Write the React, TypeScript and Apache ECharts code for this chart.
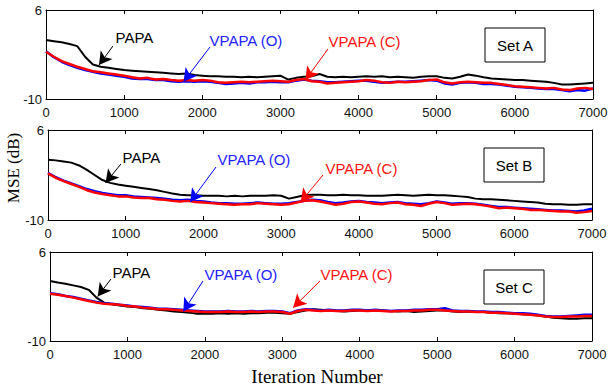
import React, { useEffect, useRef } from "react";
import * as echarts from "echarts";

const STEP = 100;
const ITER: number[] = Array.from({ length: 71 }, (_, i) => i * STEP);
const X_TICKS = [0, 1000, 2000, 3000, 4000, 5000, 6000, 7000];
const Y_TICKS = [-10, 6];
const SET_NAMES = ["Set A", "Set B", "Set C"];
const SERIES_NAMES = ["PAPA", "VPAPA (O)", "VPAPA (C)"];

const PAPA_A = [0.6, 0.4, 0.2, -0.1, -0.5, -2.4, -3.8, -4.2, -4.4, -4.6, -4.8, -4.9, -5.0, -5.1, -5.2, -5.3, -5.4, -5.5, -5.4, -5.7, -5.8, -5.9, -5.9, -6.0, -6.0, -6.1, -6.0, -6.1, -6.0, -5.9, -5.8, -6.5, -6.2, -6.0, -5.9, -5.5, -6.0, -6.1, -6.0, -6.1, -6.0, -5.9, -6.0, -5.9, -6.1, -6.0, -6.1, -6.2, -6.0, -5.9, -5.9, -6.2, -6.3, -6.0, -5.6, -5.8, -6.1, -6.3, -6.4, -6.5, -6.6, -6.6, -6.7, -6.8, -6.9, -7.1, -7.4, -7.4, -7.3, -7.2, -7.1];
const VPAPA_O_A = [-1.4, -2.5, -3.3, -3.9, -4.4, -4.8, -5.1, -5.4, -5.6, -5.8, -6.0, -6.3, -6.4, -6.4, -6.6, -6.6, -6.8, -6.9, -6.8, -6.9, -6.8, -6.9, -7.1, -7.3, -7.2, -7.1, -7.2, -7.0, -7.0, -6.9, -7.0, -7.0, -6.7, -6.5, -6.7, -6.8, -7.0, -7.0, -6.9, -6.8, -6.7, -6.7, -6.9, -7.1, -7.0, -6.9, -6.9, -6.8, -6.7, -6.6, -6.7, -7.2, -7.4, -7.1, -7.0, -7.1, -7.3, -7.3, -7.4, -7.6, -7.8, -7.9, -8.0, -8.1, -8.2, -8.2, -8.4, -8.6, -8.4, -8.5, -8.1];
const VPAPA_C_A = [-1.5, -2.4, -3.2, -3.7, -4.2, -4.6, -5.0, -5.2, -5.4, -5.6, -5.8, -6.1, -6.3, -6.2, -6.5, -6.4, -6.6, -6.7, -6.6, -6.7, -6.6, -6.7, -7.0, -7.1, -7.0, -6.9, -7.0, -6.9, -6.8, -6.7, -6.8, -6.9, -6.6, -6.4, -6.8, -6.9, -7.2, -7.1, -7.0, -6.9, -6.8, -6.6, -6.7, -7.0, -7.1, -6.9, -7.0, -6.9, -6.8, -6.6, -6.5, -7.0, -7.2, -7.0, -6.9, -7.0, -7.1, -7.1, -7.3, -7.5, -7.7, -7.8, -7.9, -8.0, -8.1, -8.0, -8.3, -8.4, -8.1, -8.0, -8.2];

const PAPA_B = [0.7, 0.6, 0.4, 0.2, -0.3, -1.1, -2.0, -2.9, -3.4, -3.7, -3.9, -4.1, -4.3, -4.5, -4.7, -5.0, -5.3, -5.5, -5.6, -5.6, -5.7, -5.7, -5.7, -5.8, -5.7, -5.8, -5.7, -5.7, -5.7, -5.6, -5.7, -6.2, -5.9, -5.6, -5.5, -5.5, -5.6, -5.6, -5.5, -5.6, -5.6, -5.7, -5.7, -5.7, -5.6, -5.5, -5.6, -5.7, -5.6, -5.5, -5.6, -5.6, -5.7, -5.8, -5.9, -6.2, -6.3, -6.3, -6.4, -6.5, -6.6, -6.7, -6.8, -6.9, -7.1, -7.2, -7.2, -7.3, -7.3, -7.2, -7.2];
const VPAPA_O_B = [-1.6, -2.4, -3.0, -3.5, -4.0, -4.5, -4.9, -5.2, -5.4, -5.6, -5.6, -5.8, -5.9, -6.0, -6.1, -6.2, -6.4, -6.5, -6.4, -6.6, -6.7, -6.9, -7.0, -7.0, -7.1, -7.1, -7.0, -6.9, -7.0, -7.1, -7.1, -7.0, -6.8, -6.6, -6.4, -6.5, -6.8, -7.0, -6.9, -6.7, -6.6, -6.8, -6.9, -7.0, -6.9, -6.8, -7.0, -7.1, -7.2, -7.0, -6.7, -6.9, -7.1, -7.0, -7.0, -7.1, -7.3, -7.5, -7.7, -7.7, -7.8, -7.9, -8.0, -8.1, -8.2, -8.3, -8.3, -8.4, -8.5, -8.3, -8.0];
const VPAPA_C_B = [-1.7, -2.5, -3.1, -3.6, -4.1, -4.7, -5.1, -5.4, -5.6, -5.8, -5.8, -6.0, -6.1, -6.1, -6.3, -6.4, -6.6, -6.7, -6.6, -6.8, -6.9, -7.0, -7.1, -7.2, -7.3, -7.2, -7.2, -7.0, -7.1, -7.2, -7.3, -7.2, -6.9, -6.6, -6.5, -6.7, -7.0, -7.3, -7.1, -6.8, -6.7, -6.9, -7.1, -7.2, -7.0, -6.9, -7.2, -7.3, -7.5, -7.1, -6.8, -7.0, -7.3, -7.2, -7.1, -7.2, -7.4, -7.6, -7.9, -7.8, -7.9, -8.0, -8.2, -8.2, -8.3, -8.4, -8.5, -8.5, -8.7, -8.6, -8.4];

const PAPA_C = [0.8, 0.5, 0.3, 0.0, -0.3, -0.8, -2.2, -3.1, -3.4, -3.6, -3.8, -3.9, -4.1, -4.2, -4.4, -4.5, -4.7, -4.8, -4.9, -5.1, -5.1, -5.1, -5.0, -5.1, -5.0, -5.1, -5.0, -5.0, -4.9, -4.9, -5.0, -5.1, -4.8, -4.5, -4.3, -4.4, -4.5, -4.6, -4.7, -4.6, -4.5, -4.5, -4.6, -4.5, -4.6, -4.7, -4.6, -4.8, -4.7, -4.6, -4.5, -4.5, -4.7, -4.8, -4.7, -4.8, -4.8, -4.9, -5.0, -5.0, -5.1, -5.2, -5.3, -5.4, -5.6, -5.8, -5.9, -6.0, -6.0, -5.9, -5.9];
const VPAPA_O_C = [-1.4, -1.6, -1.9, -2.1, -2.4, -2.7, -3.0, -3.2, -3.3, -3.5, -3.6, -3.8, -3.9, -4.0, -4.2, -4.2, -4.3, -4.4, -4.5, -4.6, -4.7, -4.7, -4.7, -4.6, -4.7, -4.7, -4.6, -4.7, -4.6, -4.6, -4.7, -5.0, -4.5, -4.3, -4.4, -4.5, -4.4, -4.5, -4.5, -4.4, -4.4, -4.5, -4.4, -4.5, -4.6, -4.5, -4.5, -4.4, -4.4, -4.3, -4.3, -4.1, -4.5, -4.6, -4.6, -4.7, -4.7, -4.8, -4.8, -4.9, -5.0, -5.0, -5.1, -5.3, -5.5, -5.6, -5.6, -5.5, -5.4, -5.3, -5.3];
const VPAPA_C_C = [-1.5, -1.7, -1.9, -2.2, -2.5, -2.8, -3.1, -3.3, -3.4, -3.5, -3.7, -3.8, -4.0, -4.1, -4.3, -4.3, -4.4, -4.5, -4.6, -4.7, -4.8, -4.8, -4.8, -4.7, -4.8, -4.8, -4.7, -4.8, -4.7, -4.7, -4.8, -5.1, -4.6, -4.4, -4.5, -4.6, -4.5, -4.6, -4.6, -4.5, -4.5, -4.6, -4.5, -4.6, -4.7, -4.6, -4.6, -4.5, -4.5, -4.4, -4.4, -4.5, -4.6, -4.7, -4.7, -4.8, -4.8, -4.9, -4.9, -5.0, -5.1, -5.2, -5.3, -5.4, -5.6, -5.7, -5.7, -5.6, -5.6, -5.5, -5.5];

// annotation anchors in data units: [textIter, textVal, arrowFromIter, arrowFromVal, arrowToIter, arrowToVal]
const ANN_A = [
  [883, 0.97, 857, -0.47, 678, -3.9],
  [2086, 0.6, 2099, -0.65, 1760, -6.9],
  [3609, 0.25, 3609, -1.0, 3320, -6.6],
];
const ANN_B = [
  [952, 1.2, 939, -0.04, 740, -3.4],
  [2175, 0.67, 2162, -0.58, 1830, -6.8],
  [3564, -0.76, 3539, -2.0, 3250, -6.8],
];
const ANN_C = [
  [801, 2.4, 788, 1.15, 616, -2.0],
  [1989, 2.04, 1976, 0.79, 1722, -4.7],
  [3487, 2.04, 3487, 0.79, 3140, -4.0],
];

const PANELS = [
  { series: [PAPA_A, VPAPA_O_A, VPAPA_C_A], ann: ANN_A },
  { series: [PAPA_B, VPAPA_O_B, VPAPA_C_B], ann: ANN_B },
  { series: [PAPA_C, VPAPA_O_C, VPAPA_C_C], ann: ANN_C },
];

const GRIDS = [
  { left: 46, top: 10, width: 547, height: 89 },
  { left: 48, top: 130, width: 544, height: 90 },
  { left: 50, top: 252, width: 542, height: 89 },
];

const COLORS = ["#000000", "#0000ff", "#ff0000"];
const TEXT_COLORS = ["#000000", "#2222ff", "#ff1111"];
const WIDTHS = [2, 2.5, 2.5];
const SANS = "Liberation Sans";
const SERIF = "Liberation Serif";

export default function App() {
  const ref = useRef<HTMLDivElement>(null);
  useEffect(() => {
    if (!ref.current) return;
    const chart = echarts.init(ref.current, null, { renderer: "svg" });
    const xAxis: any[] = [];
    const yAxis: any[] = [];
    GRIDS.forEach((_, g) => {
      const baseX = {
        type: "value",
        gridIndex: g,
        min: 0,
        max: 7000,
        interval: 1000,
        splitLine: { show: false },
        axisLine: { show: true, onZero: false, lineStyle: { color: "#000", width: 1 } },
        axisTick: { show: true, inside: true, length: 4, lineStyle: { color: "#000", width: 1 } },
      };
      xAxis.push({
        ...baseX,
        position: "bottom",
        axisLabel: {
          show: true,
          color: "#111",
          fontSize: 13,
          fontFamily: SANS,
          margin: 7,
          customValues: X_TICKS,
          formatter: (v: number) => String(v),
        },
      });
      xAxis.push({ ...baseX, position: "top", axisLabel: { show: false } });
      const baseY = {
        type: "value",
        gridIndex: g,
        min: -10,
        max: 6,
        splitLine: { show: false },
        axisLine: { show: true, onZero: false, lineStyle: { color: "#000", width: 1 } },
        axisTick: { show: true, inside: true, length: 4, customValues: Y_TICKS, lineStyle: { color: "#000", width: 1 } },
      };
      yAxis.push({
        ...baseY,
        position: "left",
        axisLabel: {
          show: true,
          color: "#111",
          fontSize: 13,
          fontFamily: SANS,
          margin: 4,
          customValues: Y_TICKS,
          formatter: (v: number) => String(v),
        },
      });
      yAxis.push({ ...baseY, position: "right", axisLabel: { show: false } });
    });

    const series: any[] = [];
    PANELS.forEach((p, g) => {
      p.series.forEach((vals, k) => {
        const a = p.ann[k];
        series.push({
          type: "line",
          name: SERIES_NAMES[k] + " " + SET_NAMES[g],
          xAxisIndex: 2 * g,
          yAxisIndex: 2 * g,
          data: vals.map((v, i) => [ITER[i], v]),
          showSymbol: false,
          symbol: "none",
          lineStyle: { color: COLORS[k], width: WIDTHS[k] },
          z: 2 + k,
          silent: true,
          markLine: {
            silent: true,
            symbol: ["none", "arrow"],
            symbolSize: [11, 13],
            label: { show: false },
            lineStyle: { color: COLORS[k], width: 1, type: "solid" },
            data: [[{ coord: [a[2], a[3]] }, { coord: [a[4], a[5]] }]],
          },
          markPoint: {
            silent: true,
            data: [
              {
                coord: [a[0], a[1]],
                symbol: "rect",
                symbolSize: 1,
                itemStyle: { color: "transparent" },
                label: {
                  show: true,
                  position: "right",
                  distance: 0,
                  formatter: SERIES_NAMES[k],
                  color: TEXT_COLORS[k],
                  fontSize: 15,
                  fontFamily: SANS,
                },
              },
            ],
          },
        });
      });
    });

    const graphic: any[] = [];
    GRIDS.forEach((gr, g) => {
      const bx = gr.left + gr.width - 108;
      const by = gr.top + 18;
      graphic.push({
        type: "rect",
        z: 100,
        shape: { x: bx, y: by, width: 60, height: 34 },
        style: { fill: "#fff", stroke: "#000", lineWidth: 1 },
      });
      graphic.push({
        type: "text",
        z: 101,
        x: bx + 30,
        y: by + 17,
        style: {
          text: SET_NAMES[g],
          font: `15px "${SANS}"`,
          fill: "#000",
          align: "center",
          verticalAlign: "middle",
        },
      });
    });
    graphic.push({
      type: "text",
      z: 101,
      x: 13,
      y: 168,
      rotation: Math.PI / 2,
      style: { text: "MSE (dB)", font: `17px "${SERIF}"`, fill: "#000", align: "center", verticalAlign: "middle" },
    });
    graphic.push({
      type: "text",
      z: 101,
      x: 317,
      y: 376,
      style: { text: "Iteration Number", font: `19px "${SERIF}"`, fill: "#000", align: "center", verticalAlign: "middle" },
    });

    chart.setOption({
      animation: false,
      backgroundColor: "#fff",
      grid: GRIDS,
      xAxis,
      yAxis,
      series,
      graphic,
    });
    return () => chart.dispose();
  }, []);
  return (
    <div
      ref={ref}
      style={{ position: "fixed", left: 0, top: 0, width: 611, height: 390, background: "#fff" }}
    />
  );
}
